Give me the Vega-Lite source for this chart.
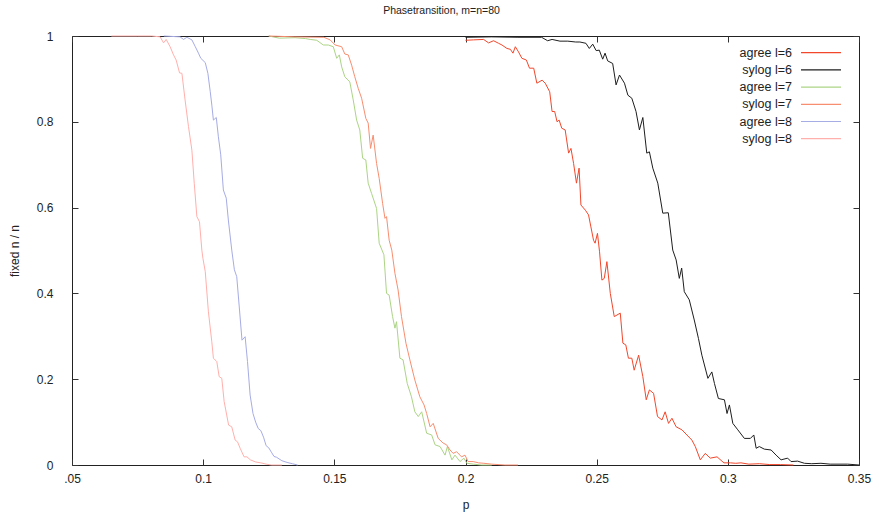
{
  "$schema": "https://vega.github.io/schema/vega-lite/v6.json",
  "width": 787,
  "height": 429,
  "autosize": {"type": "none"},
  "padding": {"left": 72, "top": 36, "right": 20, "bottom": 55},
  "title": {"text": "Phasetransition, m=n=80", "fontSize": 10.5, "fontWeight": "normal", "font": "Liberation Sans", "color": "#222222", "offset": 14, "dx": -24},
  "config": {
    "view": {"stroke": "#222222", "strokeWidth": 1},
    "font": "Liberation Sans",
    "axis": {"labelFont": "Liberation Sans", "titleFont": "Liberation Sans", "labelFontSize": 12, "titleFontSize": 12, "titleFontWeight": "normal", "labelColor": "#222222", "titleColor": "#222222", "grid": false, "domain": false, "tickColor": "#333333", "tickSize": -6, "tickWidth": 1},
    "legend": {"labelFont": "Liberation Sans", "labelFontSize": 12.5, "labelColor": "#222222"}
  },
  "data": {"values": [
    {"p":0.065,"v":1,"s":"sylog l=8"},{"p":0.075,"v":1,"s":"sylog l=8"},{"p":0.0804,"v":1.0,"s":"sylog l=8"},{"p":0.0836,"v":0.998,"s":"sylog l=8"},{"p":0.0849,"v":0.984,"s":"sylog l=8"},{"p":0.0859,"v":0.992,"s":"sylog l=8"},{"p":0.0874,"v":0.975,"s":"sylog l=8"},{"p":0.0887,"v":0.956,"s":"sylog l=8"},{"p":0.0897,"v":0.944,"s":"sylog l=8"},{"p":0.0910,"v":0.914,"s":"sylog l=8"},{"p":0.0919,"v":0.913,"s":"sylog l=8"},{"p":0.0931,"v":0.851,"s":"sylog l=8"},{"p":0.0944,"v":0.789,"s":"sylog l=8"},{"p":0.0957,"v":0.734,"s":"sylog l=8"},{"p":0.0966,"v":0.657,"s":"sylog l=8"},{"p":0.0976,"v":0.579,"s":"sylog l=8"},{"p":0.0986,"v":0.567,"s":"sylog l=8"},{"p":0.0995,"v":0.501,"s":"sylog l=8"},{"p":0.0999,"v":0.482,"s":"sylog l=8"},{"p":0.1008,"v":0.451,"s":"sylog l=8"},{"p":0.1020,"v":0.357,"s":"sylog l=8"},{"p":0.1033,"v":0.287,"s":"sylog l=8"},{"p":0.1039,"v":0.249,"s":"sylog l=8"},{"p":0.1052,"v":0.241,"s":"sylog l=8"},{"p":0.1061,"v":0.206,"s":"sylog l=8"},{"p":0.1071,"v":0.202,"s":"sylog l=8"},{"p":0.1080,"v":0.148,"s":"sylog l=8"},{"p":0.1097,"v":0.093,"s":"sylog l=8"},{"p":0.1109,"v":0.089,"s":"sylog l=8"},{"p":0.1122,"v":0.058,"s":"sylog l=8"},{"p":0.1131,"v":0.054,"s":"sylog l=8"},{"p":0.1141,"v":0.039,"s":"sylog l=8"},{"p":0.1156,"v":0.019,"s":"sylog l=8"},{"p":0.1167,"v":0.019,"s":"sylog l=8"},{"p":0.118,"v":0.012,"s":"sylog l=8"},{"p":0.120,"v":0.007,"s":"sylog l=8"},{"p":0.122,"v":0.005,"s":"sylog l=8"},{"p":0.124,"v":0.002,"s":"sylog l=8"},{"p":0.126,"v":0,"s":"sylog l=8"},{"p":0.13,"v":0,"s":"sylog l=8"},

    {"p":0.085,"v":1,"s":"agree l=8"},{"p":0.0912,"v":0.998,"s":"agree l=8"},{"p":0.0925,"v":0.992,"s":"agree l=8"},{"p":0.0938,"v":0.997,"s":"agree l=8"},{"p":0.0957,"v":0.991,"s":"agree l=8"},{"p":0.0970,"v":0.975,"s":"agree l=8"},{"p":0.0982,"v":0.960,"s":"agree l=8"},{"p":0.0991,"v":0.948,"s":"agree l=8"},{"p":0.1008,"v":0.938,"s":"agree l=8"},{"p":0.1018,"v":0.913,"s":"agree l=8"},{"p":0.1027,"v":0.870,"s":"agree l=8"},{"p":0.1033,"v":0.839,"s":"agree l=8"},{"p":0.1039,"v":0.804,"s":"agree l=8"},{"p":0.1050,"v":0.810,"s":"agree l=8"},{"p":0.1058,"v":0.765,"s":"agree l=8"},{"p":0.1067,"v":0.723,"s":"agree l=8"},{"p":0.1077,"v":0.641,"s":"agree l=8"},{"p":0.1088,"v":0.622,"s":"agree l=8"},{"p":0.1096,"v":0.571,"s":"agree l=8"},{"p":0.1109,"v":0.501,"s":"agree l=8"},{"p":0.1119,"v":0.455,"s":"agree l=8"},{"p":0.1128,"v":0.439,"s":"agree l=8"},{"p":0.1137,"v":0.373,"s":"agree l=8"},{"p":0.1148,"v":0.291,"s":"agree l=8"},{"p":0.1160,"v":0.299,"s":"agree l=8"},{"p":0.1169,"v":0.241,"s":"agree l=8"},{"p":0.1179,"v":0.163,"s":"agree l=8"},{"p":0.119,"v":0.12,"s":"agree l=8"},{"p":0.120,"v":0.1,"s":"agree l=8"},{"p":0.121,"v":0.085,"s":"agree l=8"},{"p":0.122,"v":0.08,"s":"agree l=8"},{"p":0.123,"v":0.065,"s":"agree l=8"},{"p":0.124,"v":0.045,"s":"agree l=8"},{"p":0.125,"v":0.04,"s":"agree l=8"},{"p":0.126,"v":0.03,"s":"agree l=8"},{"p":0.127,"v":0.02,"s":"agree l=8"},{"p":0.128,"v":0.018,"s":"agree l=8"},{"p":0.130,"v":0.01,"s":"agree l=8"},{"p":0.132,"v":0.006,"s":"agree l=8"},{"p":0.134,"v":0.003,"s":"agree l=8"},{"p":0.136,"v":0,"s":"agree l=8"},

    {"p":0.125,"v":1,"s":"agree l=7"},{"p":0.129,"v":0.995,"s":"agree l=7"},{"p":0.135,"v":0.996,"s":"agree l=7"},{"p":0.139,"v":0.994,"s":"agree l=7"},{"p":0.1408,"v":0.992,"s":"agree l=7"},{"p":0.1433,"v":0.990,"s":"agree l=7"},{"p":0.1458,"v":0.979,"s":"agree l=7"},{"p":0.1477,"v":0.979,"s":"agree l=7"},{"p":0.1496,"v":0.975,"s":"agree l=7"},{"p":0.1509,"v":0.948,"s":"agree l=7"},{"p":0.1519,"v":0.956,"s":"agree l=7"},{"p":0.1528,"v":0.928,"s":"agree l=7"},{"p":0.1540,"v":0.905,"s":"agree l=7"},{"p":0.1559,"v":0.893,"s":"agree l=7"},{"p":0.1572,"v":0.851,"s":"agree l=7"},{"p":0.1585,"v":0.804,"s":"agree l=7"},{"p":0.1597,"v":0.781,"s":"agree l=7"},{"p":0.1608,"v":0.715,"s":"agree l=7"},{"p":0.1620,"v":0.711,"s":"agree l=7"},{"p":0.1629,"v":0.657,"s":"agree l=7"},{"p":0.1642,"v":0.633,"s":"agree l=7"},{"p":0.1661,"v":0.598,"s":"agree l=7"},{"p":0.1671,"v":0.517,"s":"agree l=7"},{"p":0.1689,"v":0.490,"s":"agree l=7"},{"p":0.1699,"v":0.400,"s":"agree l=7"},{"p":0.1709,"v":0.396,"s":"agree l=7"},{"p":0.1722,"v":0.346,"s":"agree l=7"},{"p":0.1731,"v":0.319,"s":"agree l=7"},{"p":0.1737,"v":0.334,"s":"agree l=7"},{"p":0.1750,"v":0.249,"s":"agree l=7"},{"p":0.1762,"v":0.245,"s":"agree l=7"},{"p":0.1778,"v":0.190,"s":"agree l=7"},{"p":0.1794,"v":0.159,"s":"agree l=7"},{"p":0.1807,"v":0.124,"s":"agree l=7"},{"p":0.1820,"v":0.113,"s":"agree l=7"},{"p":0.1833,"v":0.124,"s":"agree l=7"},{"p":0.1852,"v":0.074,"s":"agree l=7"},{"p":0.1871,"v":0.070,"s":"agree l=7"},{"p":0.1884,"v":0.047,"s":"agree l=7"},{"p":0.1903,"v":0.043,"s":"agree l=7"},{"p":0.1922,"v":0.023,"s":"agree l=7"},{"p":0.1931,"v":0.043,"s":"agree l=7"},{"p":0.1948,"v":0.012,"s":"agree l=7"},{"p":0.1960,"v":0.023,"s":"agree l=7"},{"p":0.1979,"v":0.008,"s":"agree l=7"},{"p":0.1994,"v":0.016,"s":"agree l=7"},{"p":0.2005,"v":0.004,"s":"agree l=7"},{"p":0.203,"v":0.002,"s":"agree l=7"},{"p":0.206,"v":0,"s":"agree l=7"},{"p":0.21,"v":0,"s":"agree l=7"},

    {"p":0.125,"v":1,"s":"sylog l=7"},{"p":0.135,"v":0.998,"s":"sylog l=7"},{"p":0.146,"v":0.997,"s":"sylog l=7"},{"p":0.1484,"v":0.991,"s":"sylog l=7"},{"p":0.1503,"v":0.979,"s":"sylog l=7"},{"p":0.1528,"v":0.975,"s":"sylog l=7"},{"p":0.1540,"v":0.958,"s":"sylog l=7"},{"p":0.1553,"v":0.956,"s":"sylog l=7"},{"p":0.1566,"v":0.932,"s":"sylog l=7"},{"p":0.1578,"v":0.905,"s":"sylog l=7"},{"p":0.1591,"v":0.878,"s":"sylog l=7"},{"p":0.1604,"v":0.855,"s":"sylog l=7"},{"p":0.1620,"v":0.808,"s":"sylog l=7"},{"p":0.1629,"v":0.797,"s":"sylog l=7"},{"p":0.1638,"v":0.738,"s":"sylog l=7"},{"p":0.1648,"v":0.769,"s":"sylog l=7"},{"p":0.1661,"v":0.703,"s":"sylog l=7"},{"p":0.1671,"v":0.668,"s":"sylog l=7"},{"p":0.1684,"v":0.610,"s":"sylog l=7"},{"p":0.1693,"v":0.575,"s":"sylog l=7"},{"p":0.1699,"v":0.579,"s":"sylog l=7"},{"p":0.1709,"v":0.524,"s":"sylog l=7"},{"p":0.1719,"v":0.501,"s":"sylog l=7"},{"p":0.1731,"v":0.447,"s":"sylog l=7"},{"p":0.1743,"v":0.408,"s":"sylog l=7"},{"p":0.1756,"v":0.346,"s":"sylog l=7"},{"p":0.1773,"v":0.284,"s":"sylog l=7"},{"p":0.1788,"v":0.245,"s":"sylog l=7"},{"p":0.1807,"v":0.198,"s":"sylog l=7"},{"p":0.1826,"v":0.159,"s":"sylog l=7"},{"p":0.1842,"v":0.140,"s":"sylog l=7"},{"p":0.1852,"v":0.120,"s":"sylog l=7"},{"p":0.1865,"v":0.089,"s":"sylog l=7"},{"p":0.1877,"v":0.097,"s":"sylog l=7"},{"p":0.1896,"v":0.062,"s":"sylog l=7"},{"p":0.1915,"v":0.051,"s":"sylog l=7"},{"p":0.1928,"v":0.047,"s":"sylog l=7"},{"p":0.1941,"v":0.035,"s":"sylog l=7"},{"p":0.1953,"v":0.027,"s":"sylog l=7"},{"p":0.1966,"v":0.031,"s":"sylog l=7"},{"p":0.1985,"v":0.019,"s":"sylog l=7"},{"p":0.1998,"v":0.023,"s":"sylog l=7"},{"p":0.2010,"v":0.008,"s":"sylog l=7"},{"p":0.2029,"v":0.008,"s":"sylog l=7"},{"p":0.205,"v":0.005,"s":"sylog l=7"},{"p":0.207,"v":0.004,"s":"sylog l=7"},{"p":0.21,"v":0.002,"s":"sylog l=7"},{"p":0.215,"v":0,"s":"sylog l=7"},{"p":0.22,"v":0,"s":"sylog l=7"},

    {"p":0.2,"v":0.99,"s":"agree l=6"},{"p":0.2031,"v":0.991,"s":"agree l=6"},{"p":0.2069,"v":0.992,"s":"agree l=6"},{"p":0.2088,"v":0.984,"s":"agree l=6"},{"p":0.2107,"v":0.989,"s":"agree l=6"},{"p":0.2126,"v":0.983,"s":"agree l=6"},{"p":0.2139,"v":0.979,"s":"agree l=6"},{"p":0.2158,"v":0.971,"s":"agree l=6"},{"p":0.2171,"v":0.969,"s":"agree l=6"},{"p":0.2181,"v":0.960,"s":"agree l=6"},{"p":0.2190,"v":0.975,"s":"agree l=6"},{"p":0.2202,"v":0.963,"s":"agree l=6"},{"p":0.2215,"v":0.948,"s":"agree l=6"},{"p":0.2232,"v":0.944,"s":"agree l=6"},{"p":0.2244,"v":0.925,"s":"agree l=6"},{"p":0.2260,"v":0.925,"s":"agree l=6"},{"p":0.2272,"v":0.890,"s":"agree l=6"},{"p":0.2292,"v":0.897,"s":"agree l=6"},{"p":0.2304,"v":0.890,"s":"agree l=6"},{"p":0.2321,"v":0.870,"s":"agree l=6"},{"p":0.2330,"v":0.824,"s":"agree l=6"},{"p":0.2340,"v":0.824,"s":"agree l=6"},{"p":0.2349,"v":0.800,"s":"agree l=6"},{"p":0.2357,"v":0.804,"s":"agree l=6"},{"p":0.2367,"v":0.785,"s":"agree l=6"},{"p":0.2380,"v":0.781,"s":"agree l=6"},{"p":0.2393,"v":0.727,"s":"agree l=6"},{"p":0.2402,"v":0.738,"s":"agree l=6"},{"p":0.2412,"v":0.703,"s":"agree l=6"},{"p":0.2423,"v":0.657,"s":"agree l=6"},{"p":0.2433,"v":0.692,"s":"agree l=6"},{"p":0.2440,"v":0.606,"s":"agree l=6"},{"p":0.2457,"v":0.594,"s":"agree l=6"},{"p":0.2469,"v":0.583,"s":"agree l=6"},{"p":0.2478,"v":0.555,"s":"agree l=6"},{"p":0.2488,"v":0.524,"s":"agree l=6"},{"p":0.2494,"v":0.517,"s":"agree l=6"},{"p":0.2503,"v":0.540,"s":"agree l=6"},{"p":0.2511,"v":0.497,"s":"agree l=6"},{"p":0.2520,"v":0.431,"s":"agree l=6"},{"p":0.2529,"v":0.435,"s":"agree l=6"},{"p":0.2539,"v":0.474,"s":"agree l=6"},{"p":0.2552,"v":0.400,"s":"agree l=6"},{"p":0.2567,"v":0.346,"s":"agree l=6"},{"p":0.2590,"v":0.354,"s":"agree l=6"},{"p":0.2600,"v":0.284,"s":"agree l=6"},{"p":0.2611,"v":0.280,"s":"agree l=6"},{"p":0.2621,"v":0.249,"s":"agree l=6"},{"p":0.2634,"v":0.249,"s":"agree l=6"},{"p":0.2643,"v":0.221,"s":"agree l=6"},{"p":0.2660,"v":0.256,"s":"agree l=6"},{"p":0.2676,"v":0.206,"s":"agree l=6"},{"p":0.2689,"v":0.152,"s":"agree l=6"},{"p":0.2701,"v":0.175,"s":"agree l=6"},{"p":0.2717,"v":0.167,"s":"agree l=6"},{"p":0.2732,"v":0.113,"s":"agree l=6"},{"p":0.2749,"v":0.105,"s":"agree l=6"},{"p":0.2761,"v":0.124,"s":"agree l=6"},{"p":0.2774,"v":0.097,"s":"agree l=6"},{"p":0.2787,"v":0.109,"s":"agree l=6"},{"p":0.2803,"v":0.089,"s":"agree l=6"},{"p":0.2825,"v":0.082,"s":"agree l=6"},{"p":0.2844,"v":0.070,"s":"agree l=6"},{"p":0.2863,"v":0.058,"s":"agree l=6"},{"p":0.2876,"v":0.043,"s":"agree l=6"},{"p":0.2895,"v":0.012,"s":"agree l=6"},{"p":0.2914,"v":0.027,"s":"agree l=6"},{"p":0.2933,"v":0.016,"s":"agree l=6"},{"p":0.2959,"v":0.019,"s":"agree l=6"},{"p":0.2985,"v":0.005,"s":"agree l=6"},{"p":0.301,"v":0.005,"s":"agree l=6"},{"p":0.303,"v":0.004,"s":"agree l=6"},{"p":0.305,"v":0.005,"s":"agree l=6"},{"p":0.308,"v":0.002,"s":"agree l=6"},{"p":0.312,"v":0.003,"s":"agree l=6"},{"p":0.316,"v":0.001,"s":"agree l=6"},{"p":0.32,"v":0.001,"s":"agree l=6"},{"p":0.325,"v":0,"s":"agree l=6"},

    {"p":0.2,"v":0.997,"s":"sylog l=6"},{"p":0.21,"v":0.998,"s":"sylog l=6"},{"p":0.22,"v":0.997,"s":"sylog l=6"},{"p":0.229,"v":0.997,"s":"sylog l=6"},{"p":0.2313,"v":0.989,"s":"sylog l=6"},{"p":0.2330,"v":0.992,"s":"sylog l=6"},{"p":0.2360,"v":0.988,"s":"sylog l=6"},{"p":0.2390,"v":0.988,"s":"sylog l=6"},{"p":0.2420,"v":0.986,"s":"sylog l=6"},{"p":0.2436,"v":0.986,"s":"sylog l=6"},{"p":0.2459,"v":0.983,"s":"sylog l=6"},{"p":0.2472,"v":0.971,"s":"sylog l=6"},{"p":0.2485,"v":0.981,"s":"sylog l=6"},{"p":0.2498,"v":0.966,"s":"sylog l=6"},{"p":0.2510,"v":0.967,"s":"sylog l=6"},{"p":0.2523,"v":0.946,"s":"sylog l=6"},{"p":0.2532,"v":0.960,"s":"sylog l=6"},{"p":0.2542,"v":0.942,"s":"sylog l=6"},{"p":0.2561,"v":0.936,"s":"sylog l=6"},{"p":0.2574,"v":0.886,"s":"sylog l=6"},{"p":0.2587,"v":0.909,"s":"sylog l=6"},{"p":0.2606,"v":0.890,"s":"sylog l=6"},{"p":0.2619,"v":0.862,"s":"sylog l=6"},{"p":0.2634,"v":0.855,"s":"sylog l=6"},{"p":0.2650,"v":0.824,"s":"sylog l=6"},{"p":0.2663,"v":0.781,"s":"sylog l=6"},{"p":0.2676,"v":0.810,"s":"sylog l=6"},{"p":0.2691,"v":0.727,"s":"sylog l=6"},{"p":0.2701,"v":0.730,"s":"sylog l=6"},{"p":0.2714,"v":0.692,"s":"sylog l=6"},{"p":0.2733,"v":0.657,"s":"sylog l=6"},{"p":0.2752,"v":0.587,"s":"sylog l=6"},{"p":0.2773,"v":0.588,"s":"sylog l=6"},{"p":0.2790,"v":0.501,"s":"sylog l=6"},{"p":0.2803,"v":0.478,"s":"sylog l=6"},{"p":0.2815,"v":0.435,"s":"sylog l=6"},{"p":0.2824,"v":0.459,"s":"sylog l=6"},{"p":0.2834,"v":0.404,"s":"sylog l=6"},{"p":0.2853,"v":0.385,"s":"sylog l=6"},{"p":0.2872,"v":0.338,"s":"sylog l=6"},{"p":0.2888,"v":0.295,"s":"sylog l=6"},{"p":0.2901,"v":0.256,"s":"sylog l=6"},{"p":0.2924,"v":0.202,"s":"sylog l=6"},{"p":0.2939,"v":0.217,"s":"sylog l=6"},{"p":0.2949,"v":0.190,"s":"sylog l=6"},{"p":0.2964,"v":0.155,"s":"sylog l=6"},{"p":0.2987,"v":0.152,"s":"sylog l=6"},{"p":0.2997,"v":0.120,"s":"sylog l=6"},{"p":0.3006,"v":0.140,"s":"sylog l=6"},{"p":0.3019,"v":0.097,"s":"sylog l=6"},{"p":0.3038,"v":0.082,"s":"sylog l=6"},{"p":0.3063,"v":0.062,"s":"sylog l=6"},{"p":0.3086,"v":0.062,"s":"sylog l=6"},{"p":0.3099,"v":0.070,"s":"sylog l=6"},{"p":0.3108,"v":0.039,"s":"sylog l=6"},{"p":0.3120,"v":0.043,"s":"sylog l=6"},{"p":0.3139,"v":0.037,"s":"sylog l=6"},{"p":0.3165,"v":0.035,"s":"sylog l=6"},{"p":0.3184,"v":0.023,"s":"sylog l=6"},{"p":0.3203,"v":0.012,"s":"sylog l=6"},{"p":0.3228,"v":0.016,"s":"sylog l=6"},{"p":0.3241,"v":0.008,"s":"sylog l=6"},{"p":0.3266,"v":0.009,"s":"sylog l=6"},{"p":0.3292,"v":0.004,"s":"sylog l=6"},{"p":0.332,"v":0.003,"s":"sylog l=6"},{"p":0.3355,"v":0.004,"s":"sylog l=6"},{"p":0.339,"v":0.002,"s":"sylog l=6"},{"p":0.3457,"v":0.002,"s":"sylog l=6"},{"p":0.35,"v":0,"s":"sylog l=6"}
  ]},
  "layer": [
    {
      "mark": {"type": "line", "strokeWidth": 1, "interpolate": "linear"},
      "encoding": {
        "x": {"field": "p", "type": "quantitative", "scale": {"domain": [0.05, 0.35], "nice": false, "zero": false},
          "axis": {"orient": "bottom", "title": "p", "values": [0.05, 0.1, 0.15, 0.2, 0.25, 0.3, 0.35], "labelExpr": "datum.value < 0.07 ? '.05' : format(datum.value, '~g')", "labelPadding": 14, "titlePadding": 15, "labelFlush": false}},
        "y": {"field": "v", "type": "quantitative", "scale": {"domain": [0, 1], "nice": false},
          "axis": {"orient": "left", "title": "fixed n / n", "values": [0, 0.2, 0.4, 0.6, 0.8, 1], "format": "~g", "labelPadding": 25, "titlePadding": 15, "labelFlush": false}},
        "color": {"field": "s", "type": "nominal",
          "scale": {"domain": ["agree l=6", "sylog l=6", "agree l=7", "sylog l=7", "agree l=8", "sylog l=8"], "range": ["#f2472b", "#1e1e1e", "#acd485", "#f88e70", "#a6ace4", "#ffb0ac"]},
          "legend": {"title": null, "orient": "none", "legendX": 652.75, "legendY": 10.45, "padding": 0, "rowPadding": 4.2, "symbolType": "M 2 0 L 10 0", "symbolSize": 100, "symbolStrokeWidth": 1.2, "labelAlign": "right", "labelOffset": -5.25, "symbolOffset": 60}}
      }
    },
    {
      "mark": {"type": "line", "opacity": 0},
      "encoding": {
        "x": {"field": "p", "type": "quantitative", "scale": {"domain": [0.05, 0.35], "nice": false, "zero": false},
          "axis": {"orient": "top", "title": null, "labels": false, "values": [0.05, 0.1, 0.15, 0.2, 0.25, 0.3, 0.35]}},
        "y": {"field": "v", "type": "quantitative", "scale": {"domain": [0, 1], "nice": false},
          "axis": {"orient": "right", "title": null, "labels": false, "values": [0, 0.2, 0.4, 0.6, 0.8, 1]}},
        "detail": {"field": "s", "type": "nominal"}
      }
    }
  ],
  "resolve": {"axis": {"x": "independent", "y": "independent"}}
}
